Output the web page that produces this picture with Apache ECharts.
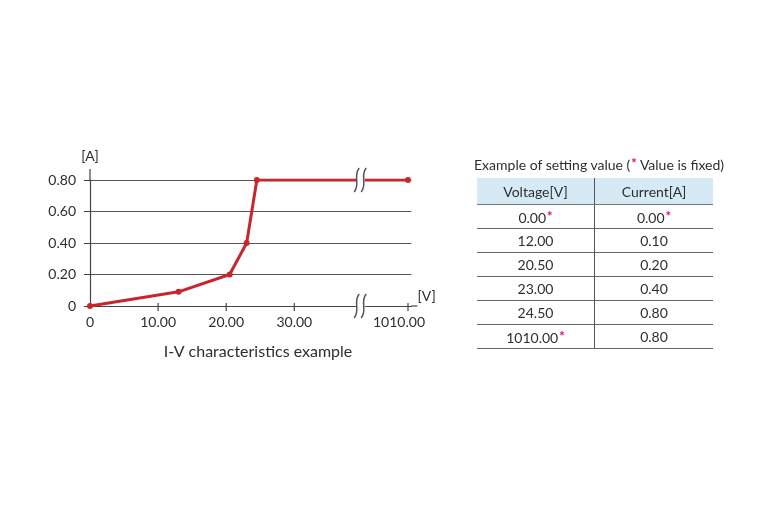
<!DOCTYPE html>
<html>
<head>
<meta charset="utf-8">
<title>I-V characteristics example</title>
<script src="https://cdn.jsdelivr.net/npm/echarts@6.0.0/dist/echarts.min.js"></script>
<style>
html, body { margin: 0; padding: 0; background: #fff; }
#main { position: absolute; left: 0; top: 0; width: 768px; height: 512px; }
#tableBox { position: absolute; left: 474px; top: 153px; font-family: Lato, "Open Sans", sans-serif; color: #2e2e2e; }
.tbl-title { font-size: 14px; height: 20px; line-height: 20px; white-space: nowrap; }
.star { color: #e4007f; font-size: 13px; font-weight: bold; vertical-align: 2px; margin-left: 1px; }
#setTable { position: absolute; left: 3px; top: 25px; border-collapse: collapse; font-size: 14px; }
#setTable th { background: #d6eaf6; font-weight: normal; height: 26px; padding: 0; border-bottom: 1.5px solid #777; }
#setTable td { height: 23px; padding: 0; text-align: center; border-bottom: 1.5px solid #666; }
#setTable th.c1, #setTable td.c1 { width: 117px; border-right: 1.5px solid #555; }
#setTable th.c2, #setTable td.c2 { width: 118px; }
</style>
</head>
<body>
<div id="main"></div>
<div id="tableBox">
  <div class="tbl-title">Example of setting value (<span class="star">*</span> Value is fixed)</div>
  <table id="setTable"></table>
</div>
<script>
"use strict";
// plotted points
var voltage = [0, 13, 20.5, 23, 24.5, 1010];
var current = [0, 0.09, 0.2, 0.4, 0.8, 0.8];
var yTicks = [0, 0.2, 0.4, 0.6, 0.8];
var xTicks = [0, 10, 20, 30, 1010];

// table contents
var tableHeader = ["Voltage[V]", "Current[A]"];
var tableVoltage = ["0.00", "12.00", "20.50", "23.00", "24.50", "1010.00"];
var tableCurrent = ["0.00", "0.10", "0.20", "0.40", "0.80", "0.80"];
var voltageFixed = [true, false, false, false, false, true];
var currentFixed = [true, false, false, false, false, false];

var breakStart = 38.8, breakEnd = 1004;
var textColor = "#2e2e2e";
var lineRed = "#c7262c";
var fontFam = "Lato, 'Open Sans', sans-serif";

function buildTable() {
    var html = "<tr><th class='c1'>" + tableHeader[0] + "</th><th class='c2'>" + tableHeader[1] + "</th></tr>";
    for (var i = 0; i < tableVoltage.length; i++) {
        var v = tableVoltage[i] + (voltageFixed[i] ? "<span class='star'>*</span>" : "");
        var c = tableCurrent[i] + (currentFixed[i] ? "<span class='star'>*</span>" : "");
        html += "<tr><td class='c1'>" + v + "</td><td class='c2'>" + c + "</td></tr>";
    }
    document.getElementById("setTable").innerHTML = html;
}

function isXTick(val) {
    for (var i = 0; i < xTicks.length; i++) {
        if (Math.abs(val - xTicks[i]) < 1e-6) return xTicks[i];
    }
    return null;
}

var pts = voltage.map(function (v, i) { return [v, current[i]]; });

var chart = echarts.init(document.getElementById("main"));
var option = {
    animation: false,
    textStyle: { fontFamily: fontFam },
    grid: { left: 90, right: 356.6, top: 180, bottom: 206 },
    xAxis: {
        type: "value",
        min: 0,
        max: 1010.5,
        interval: 2,
        breaks: [{ start: breakStart, end: breakEnd, gap: "4%" }],
        breakArea: { show: false },
        name: "[V]",
        nameGap: 6,
        nameTextStyle: { color: textColor, fontSize: 14, verticalAlign: "bottom", padding: [0, 0, 3, 0] },
        axisLine: { lineStyle: { color: "#444", width: 1.2 } },
        axisTick: { show: false },
        axisLabel: {
            color: textColor,
            fontSize: 14,
            margin: 9,
            showMaxLabel: true,
            hideOverlap: false,
            formatter: function (val) {
                var t = isXTick(val);
                if (t === null) return "";
                if (t === 0) return "0";
                if (t === 1010) return "{s|" + t.toFixed(2) + "}";
                return t.toFixed(2);
            },
            rich: { s: { color: textColor, fontSize: 14, padding: [0, 18, 0, 0] } }
        },
        splitLine: { show: false }
    },
    yAxis: {
        type: "value",
        min: 0,
        max: 0.8,
        interval: 0.2,
        name: "[A]",
        nameGap: 17,
        nameTextStyle: { color: textColor, fontSize: 14 },
        axisLine: { show: true, lineStyle: { color: "#444", width: 1.2 } },
        axisTick: { show: true, length: 6, lineStyle: { color: "#444" } },
        axisLabel: {
            color: textColor,
            fontSize: 14,
            margin: 14,
            formatter: function (val) { return val === 0 ? "0" : val.toFixed(2); }
        },
        splitLine: { show: true, lineStyle: { color: "#555", width: 1 } }
    },
    series: [{
        type: "line",
        data: pts,
        symbol: "circle",
        symbolSize: 6,
        lineStyle: { color: lineRed, width: 3 },
        itemStyle: { color: lineRed },
        z: 3
    }]
};
chart.setOption(option);

// x ticks, break marks, axis extensions and caption
function decorate() {
    var x0 = chart.convertToPixel({ xAxisIndex: 0 }, 0);
    var xEnd = chart.convertToPixel({ xAxisIndex: 0 }, 1010.5);
    var bA = chart.convertToPixel({ xAxisIndex: 0 }, breakStart);
    var bB = chart.convertToPixel({ xAxisIndex: 0 }, breakEnd);
    var bc = (bA + bB) / 2;
    var yTop = chart.convertToPixel({ yAxisIndex: 0 }, 0.8);
    var yZero = chart.convertToPixel({ yAxisIndex: 0 }, 0);
    var g = [];

    // y axis runs a little above 0.80, x axis a little past the end
    g.push({ type: "line", shape: { x1: x0, y1: yTop, x2: x0, y2: yTop - 11 }, style: { stroke: "#444", lineWidth: 1.2 } });
    g.push({ type: "line", shape: { x1: xEnd, y1: yZero, x2: xEnd + 6, y2: yZero }, style: { stroke: "#444", lineWidth: 1.2 } });

    // ticks crossing the x axis, only at the labelled values
    xTicks.forEach(function (t) {
        if (t === 0) return;
        var xx = chart.convertToPixel({ xAxisIndex: 0 }, t);
        g.push({ type: "line", shape: { x1: xx, y1: yZero - 3, x2: xx, y2: yZero + 5 }, style: { stroke: "#444", lineWidth: 1.2 } });
    });

    [yTop, yZero].forEach(function (cy) {
        g.push({ type: "rect", shape: { x: bc - 4, y: cy - 5, width: 8, height: 10 }, style: { fill: "#fff" }, z: 50 });
        [bc - 4, bc + 3].forEach(function (sx) {
            g.push({
                type: "bezierCurve",
                shape: { x1: sx + 2.5, y1: cy - 12, cpx1: sx - 4, cpy1: cy - 4, cpx2: sx + 4, cpy2: cy + 4, x2: sx - 2.5, y2: cy + 12 },
                style: { stroke: "#555", lineWidth: 1.5, fill: null },
                z: 51
            });
        });
    });

    g.push({
        type: "text",
        x: 258, y: 352,
        style: { text: "I-V characteristics example", fill: textColor, fontSize: 16, fontFamily: fontFam, align: "center", verticalAlign: "middle" },
        z: 51
    });
    chart.setOption({ graphic: g });
}

buildTable();
decorate();
</script>
</body>
</html>
